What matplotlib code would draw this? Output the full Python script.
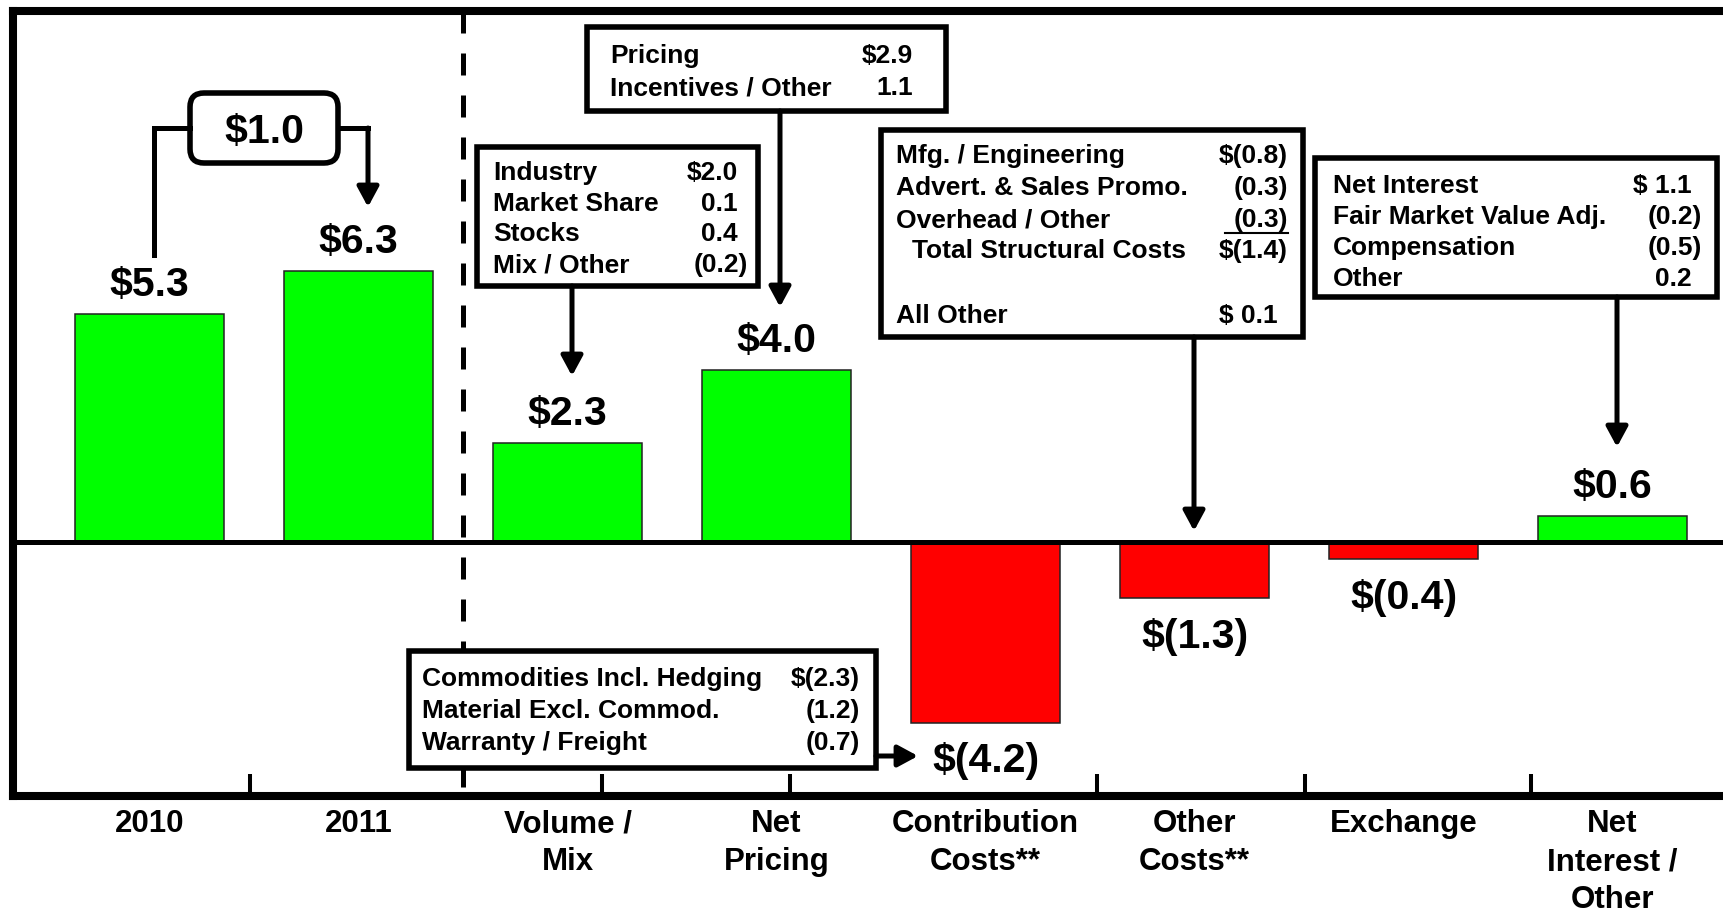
import matplotlib.pyplot as plt
import matplotlib.transforms as mtransforms
from matplotlib.patches import Rectangle, FancyBboxPatch

plt.rcParams['font.family'] = ['Liberation Sans', 'DejaVu Sans']
plt.rcParams['font.weight'] = 'bold'
plt.rcParams['text.parse_math'] = False

# -----------------------Data-----------------------
categories = ['2010', '2011', 'Volume /\nMix', 'Net\nPricing', 'Contribution\nCosts**',
              'Other\nCosts**', 'Exchange', 'Net\nInterest /\nOther']
values = [5.3, 6.3, 2.3, 4.0, -4.2, -1.3, -0.4, 0.6]
change_label = '$1.0'

pricing_items = ['Pricing', 'Incentives / Other']
pricing_vals = ['$2.9', '1.1']
volume_items = ['Industry', 'Market Share', 'Stocks', 'Mix / Other']
volume_vals = ['$2.0', '0.1', '0.4', '(0.2)']
other_items = ['Mfg. / Engineering', 'Advert. & Sales Promo.', 'Overhead / Other',
               'Total Structural Costs', 'All Other']
other_vals = ['$(0.8)', '(0.3)', '(0.3)', '$(1.4)', '$ 0.1']
interest_items = ['Net Interest', 'Fair Market Value Adj.', 'Compensation', 'Other']
interest_vals = ['$ 1.1', '(0.2)', '(0.5)', '0.2']
contrib_items = ['Commodities Incl. Hedging', 'Material Excl. Commod.', 'Warranty / Freight']
contrib_vals = ['$(2.3)', '(1.2)', '(0.7)']

# -----------------------Fig configuration-----------------------
W, H = 1723, 913
green = '#00FF00'
red = '#FF0000'
black = '#000000'
value_size = 29.5
cat_size = 22.5
box_size = 19
lw_frame = 5.8
lw_line = 3.6

# pixel layout of the original slide
x0_px, step_px = 149.5, 209
zero_px, unit_px = 542, 43
left_px, top_px, bottom_px, right_px = 13, 11, 796, 1745

fig = plt.figure(figsize=(W / 100, H / 100), dpi=100)
ax = fig.add_axes([left_px / W, (H - bottom_px) / H, (right_px - left_px) / W, (bottom_px - top_px) / H])
px = mtransforms.Affine2D().scale(1 / W, -1 / H).translate(0, 1) + fig.transFigure


def fmt(v):
    return f'${v:.1f}' if v >= 0 else f'$({-v:.1f})'


def px_off(p):
    return p * 72 / 100


# -----------------------Plot-----------------------
x = list(range(len(categories)))
colors = [green if v >= 0 else red for v in values]
ax.bar(x, values, width=149 / step_px, color=colors, edgecolor='#222222', linewidth=1.1, zorder=2)
ax.axhline(0, color=black, lw=lw_line, zorder=3)

cap = 0.716 * value_size * 100 / 72
for xi, v in zip(x, values):
    if v >= 0:
        dy = 33 - cap / 2
    else:
        dy = -(35 + cap / 2)
    ax.annotate(fmt(v), (xi, v), xytext=(0, px_off(dy)), textcoords='offset points',
                ha='center', va='baseline', fontsize=value_size, fontweight='bold', zorder=5)

# dashed separator between actuals and explanation
ylo = (zero_px - 787) / unit_px
yhi = (zero_px - top_px) / unit_px
ax.plot([1.5, 1.5], [yhi, ylo], color=black, lw=lw_line, dashes=(4.4, 4.0), zorder=1)

# frame
for side in ['left', 'top', 'bottom']:
    ax.spines[side].set_linewidth(lw_frame)
    ax.spines[side].set_capstyle('projecting')
ax.spines['right'].set_visible(False)

sep_ticks = [(p - x0_px) / step_px for p in [250, 602, 790, 1097, 1305, 1531]]
ax.set_xticks(x, categories)
ax.set_xticks(sep_ticks, minor=True)
ax.tick_params(axis='x', which='major', length=0, pad=9.5, labelsize=cat_size)
ax.tick_params(axis='x', which='minor', direction='in', length=15.8, width=2.9, color=black)
ax.set_yticks([])
for lab in ax.get_xticklabels():
    lab.set_linespacing(1.35)
    lab.set_fontweight('bold')

ax.set_xlim((left_px - x0_px) / step_px, (right_px - x0_px) / step_px)
ax.set_ylim((zero_px - bottom_px) / unit_px, (zero_px - top_px) / unit_px)


def arrow(x1, y1, x2, y2):
    ax.annotate('', xy=(x2, y2), xytext=(x1, y1), xycoords=px, textcoords=px,
                arrowprops=dict(arrowstyle='-|>,head_length=12,head_width=6.5', mutation_scale=1,
                                lw=lw_line, color=black, shrinkA=0, shrinkB=0), zorder=6)


def table_box(bx0, by0, bx1, by1, items, vals, xl, xr, rows, indent=None):
    ax.add_patch(Rectangle((bx0, by0), bx1 - bx0, by1 - by0, transform=px, fc='white',
                           ec=black, lw=4, zorder=4, clip_on=False))
    c = 0.716 * box_size * 100 / 72 / 2
    for it, vv, yy in zip(items, vals, rows):
        xi = indent if (indent is not None and it.startswith('Total')) else xl
        ax.text(xi, yy + c, it, transform=px, ha='left', va='baseline',
                fontsize=box_size, fontweight='bold', zorder=5)
        shift = 0 if vv.endswith(')') else 10
        ax.text(xr - shift, yy + c, vv, transform=px, ha='right', va='baseline',
                fontsize=box_size, fontweight='bold', zorder=5)


# $1.0 bridge between 2010 and 2011
ax.add_patch(FancyBboxPatch((190, 93), 148, 70, boxstyle='round,pad=0,rounding_size=14',
                            transform=px, fc='white', ec=black, lw=4, zorder=4, clip_on=False))
ax.text(264, 128 + cap / 2, change_label, transform=px, ha='center', va='baseline',
        fontsize=value_size, fontweight='bold', zorder=5)
ax.plot([190, 154, 154], [128, 128, 255], transform=px, color=black, lw=lw_line,
        solid_joinstyle='miter', zorder=4)
ax.plot([338, 368], [128, 128], transform=px, color=black, lw=lw_line,
        solid_capstyle='projecting', zorder=4)
arrow(368, 128, 368, 207)

# detail boxes
table_box(587, 27, 946, 111, pricing_items, pricing_vals, 610, 923, [54, 86])
arrow(780, 111, 780, 307)

table_box(477, 147, 758, 286, volume_items, volume_vals, 493, 748, [171, 202, 232, 263])
arrow(572, 286, 572, 376)

table_box(881, 130, 1303, 337, other_items, other_vals, 896, 1288, [154, 186, 218, 249, 314], indent=912)
ax.plot([1225, 1288], [233, 233], transform=px, color=black, lw=1.5, zorder=5)
arrow(1194, 337, 1194, 531)

table_box(1315, 158, 1717, 297, interest_items, interest_vals, 1333, 1702, [184, 215, 246, 277])
arrow(1617, 297, 1617, 447)

table_box(409, 651, 876, 768, contrib_items, contrib_vals, 422, 860, [677, 709, 741])
arrow(876, 756, 918, 756)

plt.savefig('out.png', dpi=100)
